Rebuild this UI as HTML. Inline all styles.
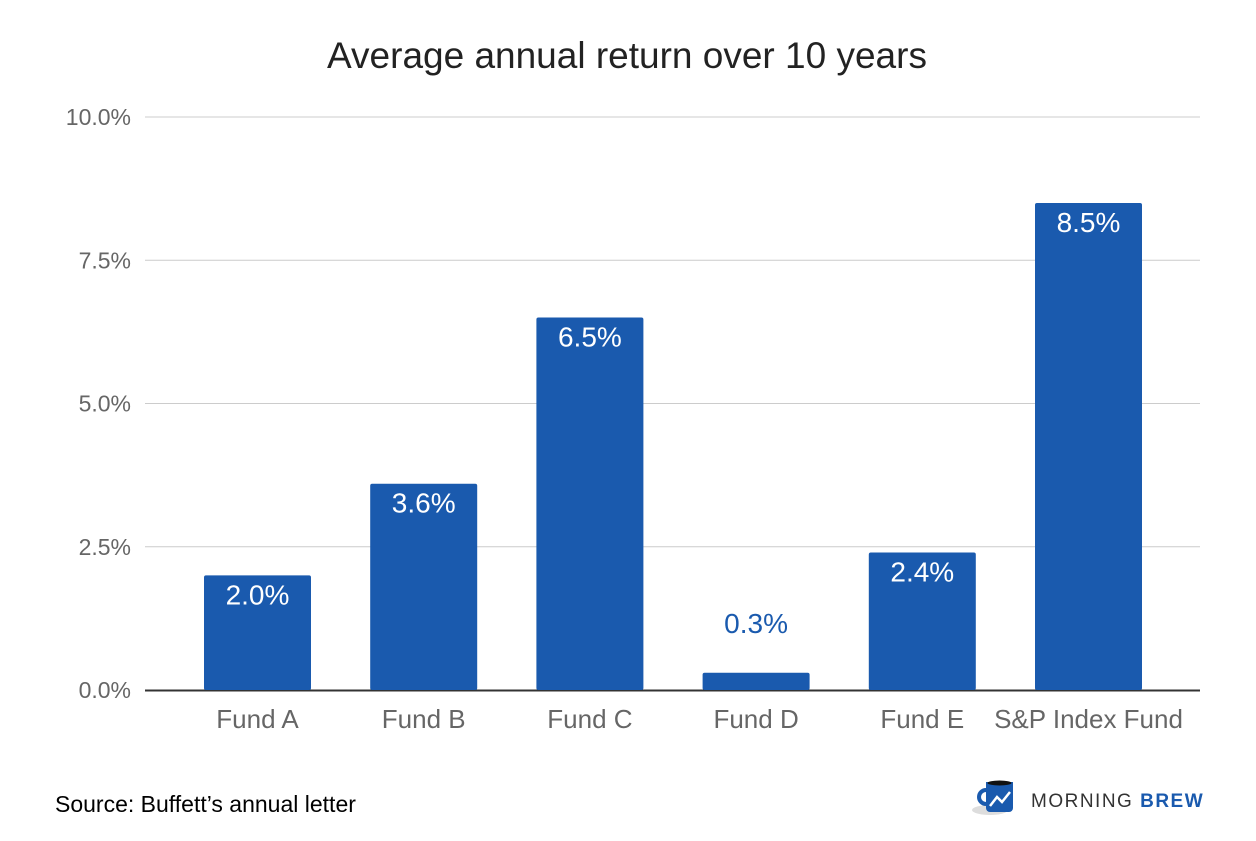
<!DOCTYPE html>
<html><head><meta charset="utf-8"><style>
body{margin:0;background:#fff;width:1256px;height:836px;overflow:hidden;font-family:"Liberation Sans",sans-serif}
</style></head><body>
<svg id="chart" width="1256" height="836" xmlns="http://www.w3.org/2000/svg">
<text x="627" y="68" text-anchor="middle" font-size="37" fill="#222">Average annual return over 10 years</text>
<g id="grid"></g><g id="bars"></g><g id="labels"></g>
<text x="55" y="812" font-size="23" fill="#000">Source: Buffett’s annual letter</text>
<g>
<ellipse cx="990" cy="810" rx="18" ry="5" fill="#ddd"/>
<path d="M986 782 h27 v26 a4 4 0 0 1 -4 4 h-19 a4 4 0 0 1 -4 -4z" fill="#1a5aae"/>
<path d="M986 790 a7 7 0 1 0 0 14" fill="none" stroke="#1a5aae" stroke-width="4"/>
<ellipse cx="999.5" cy="783" rx="12" ry="2.5" fill="#111"/>
<polyline points="990,806 997,797 1002,802 1010,792" fill="none" stroke="#fff" stroke-width="2.5"/>
<text x="1031" y="807" font-size="19" fill="#333" letter-spacing="1.5">MORNING <tspan fill="#1a5aae" font-weight="bold">BREW</tspan></text>
</g>
</svg>
<script>
const categories=["Fund A","Fund B","Fund C","Fund D","Fund E","S&P Index Fund"];
const values=[2.0,3.6,6.5,0.3,2.4,8.5];
const valueLabels=["2.0%","3.6%","6.5%","0.3%","2.4%","8.5%"];
const ticks=[0,2.5,5,7.5,10];
const tickLabels=["0.0%","2.5%","5.0%","7.5%","10.0%"];
const NS="http://www.w3.org/2000/svg";
const y=v=>690-v*57.3;
const x=i=>257.5+i*166.2;
const bw=107;
function mk(t,a,p){const e=document.createElementNS(NS,t);for(const k in a)e.setAttribute(k,a[k]);p.appendChild(e);return e;}
const grid=document.getElementById('grid'),bars=document.getElementById('bars'),labels=document.getElementById('labels');
ticks.forEach((t,i)=>{
 if(t>0){const l=mk('line',{x1:145,x2:1200,y1:y(t),y2:y(t),stroke:'#ccc','stroke-width':1},grid);
 
 }
 const tx=mk('text',{x:131,y:y(t)+8,'text-anchor':'end','font-size':23,fill:'#666'},grid);
 tx.textContent=tickLabels[i];
 
 
});
values.forEach((v,i)=>{
 const r=mk('rect',{x:x(i)-bw/2,y:y(v),width:bw,height:690-y(v),rx:2,fill:'#1a5aae'},bars);
 
 
 const inside=(690-y(v))>50;
 const t=mk('text',{x:x(i),y:inside?y(v)+29:y(v)-40,'text-anchor':'middle','font-size':28,fill:inside?'#fff':'#1a5aae'},labels);
 t.textContent=valueLabels[i];
 
 
 const c=mk('text',{x:x(i),y:728,'text-anchor':'middle','font-size':26,fill:'#666'},labels);
 c.textContent=categories[i];
 
 
});
const ax=mk('line',{x1:145,x2:1200,y1:690.5,y2:690.5,stroke:'#333','stroke-width':2},grid);


</script>
</body></html>
